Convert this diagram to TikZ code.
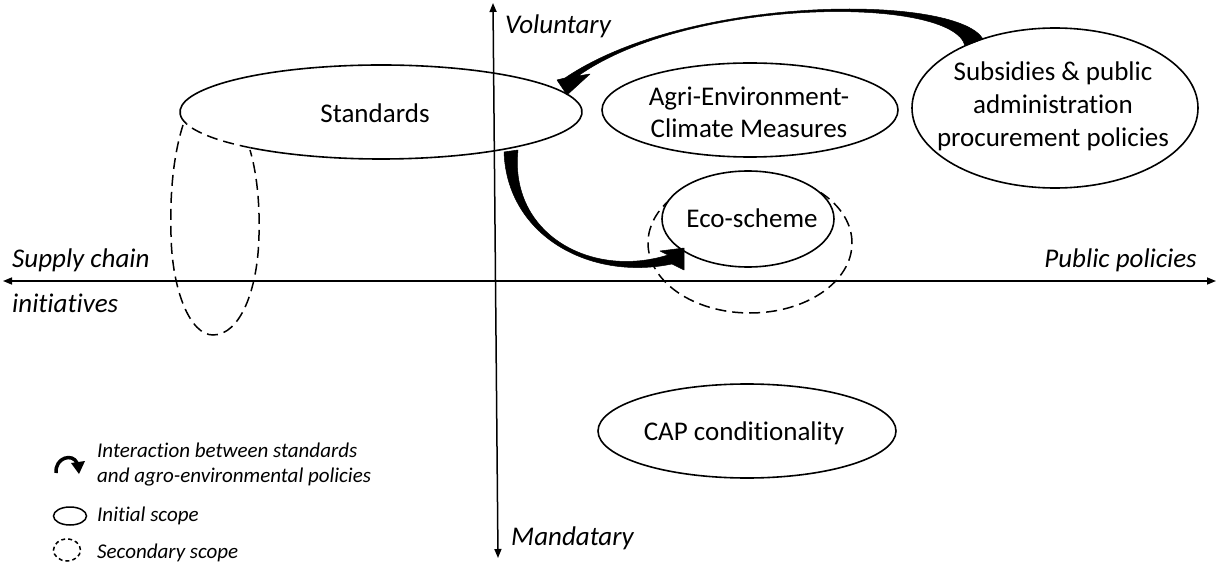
\documentclass[tikz,border=0pt]{standalone}
\usepackage{fontspec}
\setmainfont{Carlito}[Ligatures=NoCommon]
\usetikzlibrary{arrows.meta,shapes.geometric}
\begin{document}
\begin{tikzpicture}[x=1pt,y=-1pt,
  oval/.style={ellipse,draw,line width=1.6pt,fill=white,inner sep=0pt},
  txt/.style={inner sep=0pt,font=\fontsize{27}{32}\selectfont,align=center},
  dashedoval/.style={ellipse,draw,line width=1.5pt,dash pattern=on 11pt off 6pt,inner sep=0pt},
  axis/.style={line width=1.5pt,{Triangle[length=9pt,width=7pt]}-{Triangle[length=9pt,width=7pt]}},
  lab/.style={font=\fontsize{27}{32}\selectfont\itshape,inner sep=0pt},
  leg/.style={font=\fontsize{21}{25}\selectfont\itshape,inner sep=0pt,align=left},
  bigarrow/.style={fill=black,draw=black,line width=0.5pt,line join=round}]
\useasboundingbox (0,0) rectangle (1219,564);

% axes
\coordinate (xl) at (3,281);
\coordinate (xr) at (1216,281);
\coordinate (yt) at (493,3);
\coordinate (yb) at (498,558);
\draw[axis] (xl) -- (xr);
\draw[axis] (yt) -- (yb);

% secondary scope of standards (dashed)
\draw[line width=1.5pt,dash pattern=on 11pt off 6pt]
  (183,125) .. controls (172,160) and (170,200) .. (171,235)
  .. controls (172,290) and (190,335) .. (213,335)
  .. controls (240,335) and (258,290) .. (259,235)
  .. controls (260,200) and (256,170) .. (250,150);

% Standards
\node[ellipse,minimum width=402pt,minimum height=94pt,inner sep=0pt] (std) at (381,112) {};
\node[txt] (stdt) at (375,113) {Standards};
\draw[line width=1.6pt] (381,112) ++(165.5:201 and 47)
  arc[start angle=165.5,end angle=490.5,x radius=201,y radius=47];
\draw[line width=1.5pt,dash pattern=on 11pt off 6pt] (381,112) ++(130.5:201 and 47)
  arc[start angle=130.5,end angle=165.5,x radius=201,y radius=47];

% AECM
\node[oval,minimum width=296pt,minimum height=94pt] (aecm) at (750,110) {};
\node[txt] (aecmt) at (749,112) {Agri-Environment-\\Climate Measures};

% Eco-scheme with secondary scope
\node[dashedoval,minimum width=204pt,minimum height=140pt] (ecod) at (750,243) {};
\node[oval,minimum width=172pt,minimum height=96pt] (eco) at (748,219) {};
\node[txt] (ecot) at (752,218) {Eco-scheme};

% Subsidies
\node[oval,minimum width=286pt,minimum height=160pt] (subs) at (1055,108) {};
\node[txt,font=\fontsize{27}{33}\selectfont] (subst) at (1053,106)
  {Subsidies \& public\\administration\\procurement policies};

% CAP
\node[oval,minimum width=298pt,minimum height=94pt] (cap) at (747,431) {};
\node[txt] (capt) at (744,433) {CAP conditionality};

% axis labels
\node[lab,anchor=west] (vol) at (505,26) {Voluntary};
\node[lab,anchor=west] (man) at (511,538) {Mandatary};
\node[lab,anchor=west] (sc1) at (12,260) {Supply chain};
\node[lab,anchor=west] (sc2) at (12,303) {initiatives};
\node[lab,anchor=east] (pp) at (1197,260) {Public policies};

% interaction arrows
\fill[bigarrow] (983,39) .. controls (956,-6) and (689,-6) .. (565,78)
  -- (557,80) -- (567,95) -- (590,74) -- (578,76)
  .. controls (691,-4) and (954,-4) .. (965,46) -- cycle;
\fill[bigarrow] (504,152) .. controls (507,236) and (590,281) .. (672,264)
  -- (684,270) -- (684,248) -- (660,251) -- (668,255)
  .. controls (591,279) and (509,234) .. (518,150) -- cycle;

% legend
\draw[line width=3.5pt] (56,473) .. controls (55,457) and (73,453) .. (77,463);
\fill (71,463) -- (85,461) -- (79,474) -- cycle;
\node[leg,anchor=west] (l1) at (97,465) {Interaction between standards\\and agro-environmental policies};
\node[ellipse,draw,line width=1.5pt,minimum width=33pt,minimum height=18pt,inner sep=0pt] (li) at (70,516) {};
\node[leg,anchor=west] (l2) at (97,516) {Initial scope};
\node[ellipse,draw,line width=1.5pt,dash pattern=on 4pt off 3pt,minimum width=27pt,minimum height=22pt,inner sep=0pt] (ls) at (67,550) {};
\node[leg,anchor=west] (l3) at (97,553) {Secondary scope};
\end{tikzpicture}
\end{document}
